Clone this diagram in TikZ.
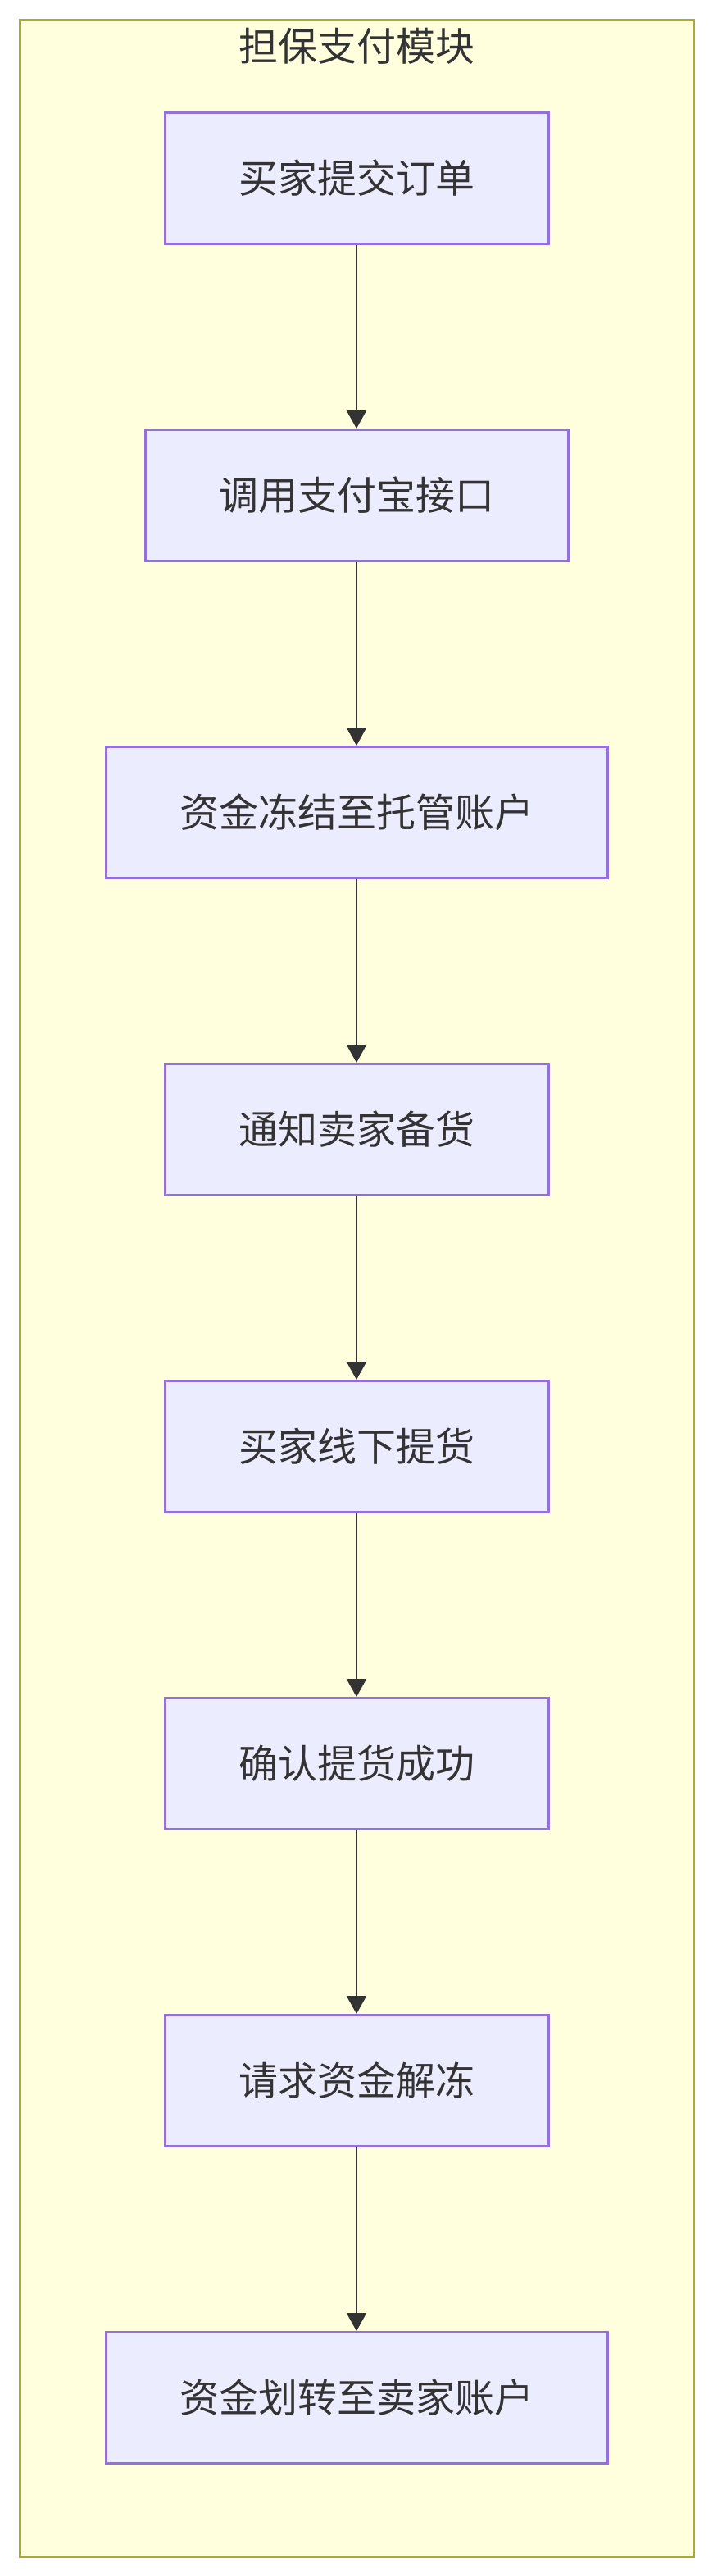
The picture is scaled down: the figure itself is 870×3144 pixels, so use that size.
\documentclass[tikz,border=0pt]{standalone}
\usepackage{fontspec}
\newfontfamily\cjk{Noto Sans CJK SC}
\usepackage{tikz}
\usetikzlibrary{arrows.meta,positioning,backgrounds}
\usepackage{xcolor}
\definecolor{nodefill}{HTML}{ECECFF}
\definecolor{nodeline}{HTML}{9370DB}
\definecolor{clusterfill}{HTML}{FFFFDE}
\definecolor{clusterline}{HTML}{AAAA33}
\definecolor{txt}{HTML}{333333}
\begin{document}
\begin{tikzpicture}[x=0.5pt,y=-0.5pt,
box/.style={draw=nodeline,fill=nodefill,line width=1.5pt,align=center,minimum height=80pt,inner xsep=45pt,font=\cjk\fontsize{24}{28}\selectfont,text=txt},
arr/.style={-{Triangle[length=11pt,width=12pt]},line width=1.2pt,draw=txt},node distance=112pt]
\useasboundingbox (0,0) rectangle (870,3144);
\draw[fill=clusterfill,draw=clusterline,line width=1.5pt] (24,24) rectangle (846,3120);
\node[font=\cjk\fontsize{24}{28}\selectfont,text=txt] (title) at (435,56) {担保支付模块};
\node[box] (order) at (435,217.5) {买家提交订单};
\node[box,below=of order] (alipay) {调用支付宝接口};
\node[box,below=of alipay] (freeze) {资金冻结至托管账户};
\node[box,below=of freeze] (notify) {通知卖家备货};
\node[box,below=of notify] (pickup) {买家线下提货};
\node[box,below=of pickup] (confirm) {确认提货成功};
\node[box,below=of confirm] (request) {请求资金解冻};
\node[box,below=of request] (transfer) {资金划转至卖家账户};
\draw[arr] (order)--(alipay);\draw[arr] (alipay)--(freeze);\draw[arr] (freeze)--(notify);
\draw[arr] (notify)--(pickup);\draw[arr] (pickup)--(confirm);\draw[arr] (confirm)--(request);
\draw[arr] (request)--(transfer);
\end{tikzpicture}
\end{document}
